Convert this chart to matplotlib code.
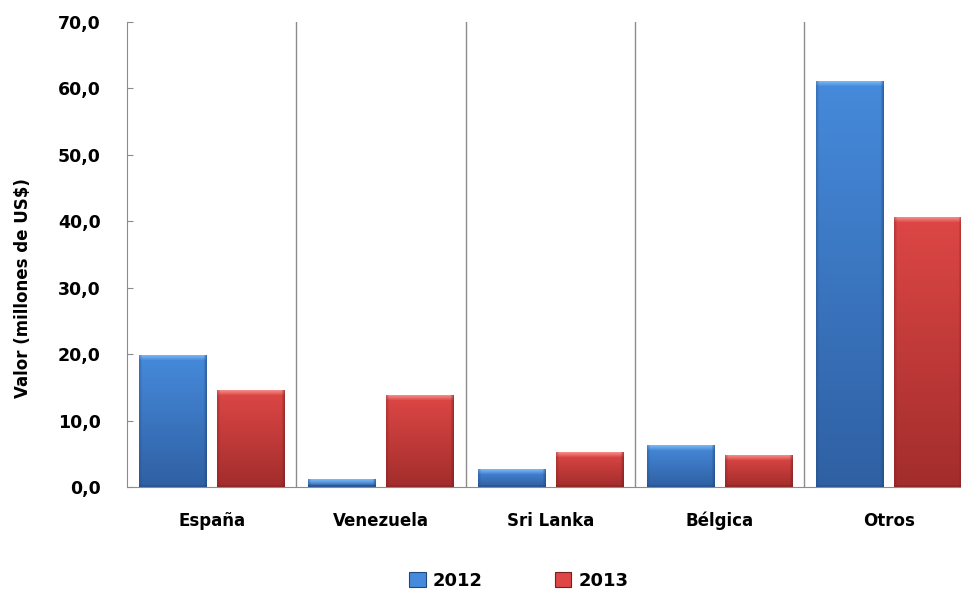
import numpy as np
import matplotlib
matplotlib.use('Agg')
from matplotlib import pyplot as plt
from matplotlib.patches import Rectangle

categories = ['España', 'Venezuela', 'Sri Lanka', 'Bélgica', 'Otros']
years = ['2012', '2013']
values_2012 = [19.8, 1.1, 2.7, 6.2, 61.0]
values_2013 = [14.6, 13.8, 5.2, 4.8, 40.5]
y_ticks = [0, 10, 20, 30, 40, 50, 60, 70]

# top / bottom / highlight / edge colours for each series
blue = {'top': '#468adb', 'bottom': '#2f60a3', 'light': '#80bcf8', 'edge': '#21487e'}
red = {'top': '#dd4745', 'bottom': '#a22d2c', 'light': '#f89490', 'edge': '#7a1f1f'}

plt.rcParams['font.family'] = ['DejaVu Sans']
plt.rcParams['font.weight'] = 'bold'

W, H, DPI = 961, 596, 100
fig = plt.figure(figsize=(W / DPI, H / DPI), dpi=DPI)
ax_left, ax_right, ax_top, ax_bottom = 127, 973.5, 22, 487
ax = fig.add_axes([ax_left / W, 1 - ax_bottom / H, (ax_right - ax_left) / W, (ax_bottom - ax_top) / H])

x = np.arange(len(categories))
bar_w = 0.396
off = 0.23
bars_a = ax.bar(x - off, values_2012, bar_w, color='none', edgecolor='none')
bars_b = ax.bar(x + off, values_2013, bar_w, color='none', edgecolor='none')

px_x = (ax_right - ax_left) / len(categories)
px_y = (ax_bottom - ax_top) / 70


def hex_rgb(c):
    return np.array(matplotlib.colors.to_rgb(c))


def shade_bar(patch, pal):
    x0, w, h = patch.get_x(), patch.get_width(), patch.get_height()
    nw = max(int(round(w * px_x)), 2)
    nh = max(int(round(h * px_y)), 2)
    v = np.linspace(0, 1, nh)[:, None, None]
    img = hex_rgb(pal['bottom']) * (1 - v) + hex_rgb(pal['top']) * v
    img = np.repeat(img, nw, axis=1)
    # bevel: light strip on top, darker sides and bottom
    strip = min(5, nh)
    for k in range(strip):
        t = 1 - k / strip
        img[nh - 1 - k, :] = img[nh - 1 - k, :] * (1 - t * 0.85) + hex_rgb(pal['light']) * t * 0.85
    edge = hex_rgb(pal['edge'])
    for k in range(3):
        t = 0.6 - k * 0.2
        img[:, nw - 1 - k] = img[:, nw - 1 - k] * (1 - t) + edge * t
        img[:, k] = img[:, k] * (1 - t * 0.6) + edge * t * 0.6
    for k in range(min(2, nh)):
        img[k, :] = img[k, :] * 0.6 + edge * 0.4
    ax.imshow(img, extent=[x0, x0 + w, 0, h], origin='lower', aspect='auto',
              interpolation='bilinear', zorder=2)


for p in bars_a:
    shade_bar(p, blue)
for p in bars_b:
    shade_bar(p, red)

for sep in x[:-1] + 0.5:
    ax.axvline(sep, color='#8c8c8c', lw=1, zorder=1)

ax.set_xlim(-0.5, len(categories) - 0.5)
ax.set_ylim(0, 70)
ax.set_yticks(y_ticks)
ax.set_yticklabels([f'{v:.1f}'.replace('.', ',') for v in y_ticks], fontsize=12.5, fontweight='bold')
ax.set_xticks(x)
ax.set_xticklabels(categories, fontsize=12, fontweight='bold')
ax.tick_params(axis='x', length=0, pad=18)
ax.tick_params(axis='y', direction='in', length=4, color='#8c8c8c', pad=19)
for side in ['top', 'right']:
    ax.spines[side].set_visible(False)
for side in ['left', 'bottom']:
    ax.spines[side].set_color('#8c8c8c')

fig.text(23 / W, 1 - 288 / H, 'Valor (millones de US$)', rotation=90, ha='center',
         va='center', fontsize=12, fontweight='bold')

handles = [Rectangle((0, 0), 1, 1, facecolor=blue['top'], edgecolor=blue['edge'], lw=0.8),
           Rectangle((0, 0), 1, 1, facecolor=red['top'], edgecolor=red['edge'], lw=0.8)]
fig.legend(handles, years, loc='center', bbox_to_anchor=(519 / W, 1 - 581 / H), ncol=2,
           frameon=False, prop={'size': 13, 'weight': 'bold'}, handlelength=0.9,
           handleheight=0.9, handletextpad=0.4, columnspacing=4.0)

fig.savefig('out.png', dpi=DPI)
